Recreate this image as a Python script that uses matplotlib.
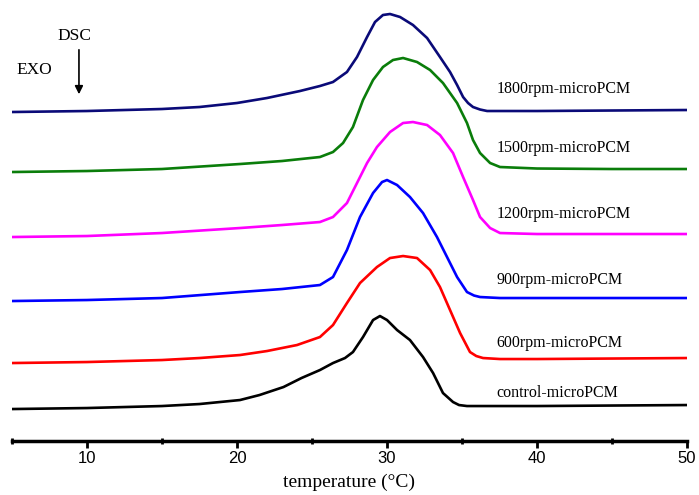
import matplotlib
matplotlib.use('Agg')
from matplotlib import pyplot as plt
from matplotlib.ticker import MultipleLocator

# DSC curves, stacked (heat flow in arbitrary units, offset per sample)
t_1800 = [5, 10, 15, 17.5, 20, 22, 24.2, 25.53, 26.4, 27.33, 28.0, 28.67, 29.2, 29.73, 30.2, 30.87, 31.73,
          32.67, 33.53, 34.2, 34.67, 35.07, 35.4, 35.73, 36.2, 36.67, 37.53, 40, 45, 50]
q_1800 = [32.9, 33.0, 33.2, 33.4, 33.8, 34.3, 35.0, 35.5, 35.9, 36.9, 38.4, 40.4, 41.9, 42.6, 42.7, 42.4, 41.6,
          40.3, 38.4, 36.9, 35.6, 34.4, 33.8, 33.4, 33.15, 33.0, 33.0, 33.0, 33.05, 33.1]

t_1500 = [5, 10, 15, 20.2, 23, 25.53, 26.4, 27.07, 27.73, 28.4, 29.07, 29.73, 30.4, 31.07, 32.0, 32.87,
          33.73, 34.67, 35.33, 35.73, 36.2, 36.87, 37.53, 40, 45, 50]
q_1500 = [26.9, 27.0, 27.2, 27.7, 28.0, 28.4, 28.9, 29.8, 31.4, 34.1, 36.1, 37.4, 38.1, 38.3, 37.9, 37.1,
          35.8, 33.8, 31.8, 30.1, 28.8, 27.8, 27.4, 27.25, 27.2, 27.2]

t_1200 = [5, 10, 15, 20.2, 23, 25.53, 26.4, 27.33, 28.0, 28.67, 29.33, 30.2, 31.07, 31.73, 32.67, 33.53,
          34.4, 35.07, 35.73, 36.2, 36.87, 37.53, 40, 45, 50]
q_1200 = [20.4, 20.5, 20.8, 21.3, 21.6, 21.9, 22.4, 23.8, 25.8, 27.8, 29.4, 30.9, 31.8, 31.9, 31.6, 30.6,
          28.8, 26.4, 24.1, 22.4, 21.3, 20.8, 20.7, 20.7, 20.7]

t_900 = [5, 10, 15, 20.2, 23, 25.53, 26.4, 27.33, 28.2, 29.07, 29.67, 30.0, 30.67, 31.53, 32.4, 33.33,
         34.0, 34.67, 35.33, 35.8, 36.2, 37.53, 40, 45, 50]
q_900 = [14.0, 14.1, 14.3, 14.9, 15.2, 15.6, 16.4, 19.1, 22.4, 24.8, 25.9, 26.1, 25.6, 24.4, 22.8, 20.4,
         18.4, 16.4, 14.9, 14.55, 14.4, 14.3, 14.3, 14.3, 14.3]

t_600 = [5, 10, 15, 17.5, 20.2, 22, 24, 25.53, 26.4, 27.33, 28.2, 29.33, 30.2, 31.07, 32.0, 32.87, 33.53,
         34.2, 34.87, 35.53, 35.95, 36.4, 37.53, 40, 45, 50]
q_600 = [7.8, 7.9, 8.1, 8.3, 8.6, 9.0, 9.6, 10.4, 11.6, 13.8, 15.8, 17.4, 18.3, 18.5, 18.3, 17.1, 15.4,
         13.1, 10.8, 8.9, 8.5, 8.3, 8.2, 8.2, 8.25, 8.3]

t_ctrl = [5, 10, 15, 17.5, 20.2, 21.5, 23.1, 24.3, 25.53, 26.4, 27.2, 27.73, 28.4, 29.07, 29.53, 30.0,
          30.67, 31.53, 32.4, 33.07, 33.73, 34.4, 34.8, 35.33, 37.53, 40, 45, 50]
q_ctrl = [3.2, 3.3, 3.5, 3.7, 4.1, 4.6, 5.4, 6.3, 7.1, 7.8, 8.3, 8.9, 10.4, 12.1, 12.5, 12.1,
          11.1, 10.1, 8.4, 6.8, 4.8, 3.9, 3.6, 3.5, 3.5, 3.5, 3.55, 3.6]

names = ['1800rpm-microPCM', '1500rpm-microPCM', '1200rpm-microPCM',
         '900rpm-microPCM', '600rpm-microPCM', 'control-microPCM']
colors = ['#0a0a78', '#0a7d0a', '#ff00ff', '#0000ff', '#ff0000', '#000000']
label_y = [35.2, 29.3, 22.7, 16.1, 9.8, 4.8]

curves = [(t_1800, q_1800), (t_1500, q_1500), (t_1200, q_1200),
          (t_900, q_900), (t_600, q_600), (t_ctrl, q_ctrl)]

fig = plt.figure(figsize=(6.99, 4.95), dpi=100)
ax = fig.add_axes([0.017, 0.109, 0.966, 0.891])

for (t, q), c in zip(curves, colors):
    ax.plot(t, q, color=c, lw=1.9, solid_joinstyle='round', solid_capstyle='round')

for name, y in zip(names, label_y):
    ax.text(37.3, y, name, family='Liberation Serif', fontsize=11.5, va='center', ha='left')

ax.text(9.2, 40.5, 'DSC', family='Liberation Serif', fontsize=12.5, ha='center', va='center')
ax.text(6.5, 37.1, 'EXO', family='Liberation Serif', fontsize=12.5, ha='center', va='center')
ax.annotate('', xy=(9.47, 34.4), xytext=(9.47, 39.4),
            arrowprops=dict(arrowstyle='-|>', color='black', lw=1.2, mutation_scale=12))

ax.set_xlim(5, 50)
ax.set_ylim(0, 44.1)
for s in ['top', 'right', 'left']:
    ax.spines[s].set_visible(False)
ax.spines['bottom'].set_linewidth(2.5)
ax.set_yticks([])
ax.xaxis.set_major_locator(MultipleLocator(10))
ax.xaxis.set_minor_locator(MultipleLocator(5))
ax.tick_params(axis='x', which='major', direction='out', length=5, width=2, labelsize=12, pad=2)
ax.tick_params(axis='x', which='minor', direction='inout', length=4, width=2)
for lab in ax.get_xticklabels():
    lab.set_family('Liberation Sans')

ax.set_xlabel('temperature (°C)', family='Liberation Serif', fontsize=14, labelpad=6)

plt.savefig('out.png', dpi=100)
